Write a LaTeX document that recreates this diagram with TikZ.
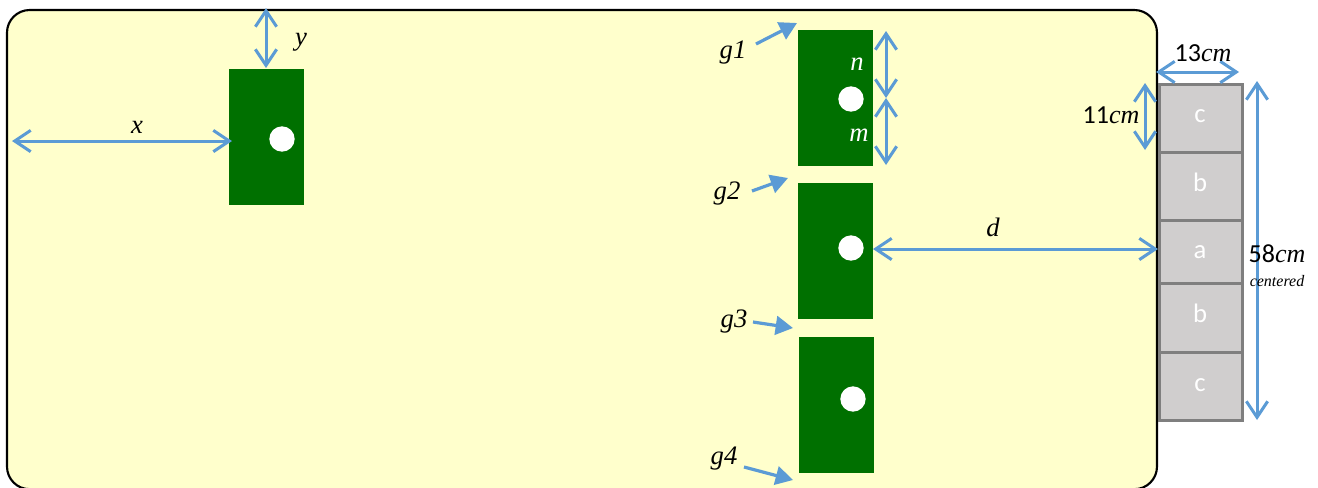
\documentclass[tikz,border=0pt]{standalone}
\usepackage{fontspec}
\setmainfont{Carlito}
\newfontfamily\serifit{Liberation Serif}
\usetikzlibrary{arrows.meta}
\definecolor{dimblue}{HTML}{5B9BD5}
\definecolor{panelfill}{HTML}{FFFFCC}
\definecolor{gategreen}{HTML}{007000}
\definecolor{cellfill}{HTML}{D0CECE}
\definecolor{celledge}{HTML}{7F7F7F}
\newcommand{\ms}[1]{{\serifit\itshape #1}}
\tikzset{
  panel/.style={draw=black,line width=1.6pt,fill=panelfill,rounded corners=17pt},
  gate/.style={fill=gategreen,draw=none},
  hole/.style={circle,fill=white,draw=none,minimum size=19pt,inner sep=0pt},
  cell/.style={draw=celledge,line width=2.25pt,fill=cellfill},
  celltext/.style={text=white,font=\fontsize{20}{22}\selectfont,inner sep=0pt},
  dimline/.style={draw=dimblue,line width=2.25pt,{Straight Barb[length=12pt,width=16pt,line width=2.25pt]}-{Straight Barb[length=12pt,width=16pt,line width=2.25pt]}},
  pointer/.style={draw=dimblue,line width=2.4pt,-{Triangle[length=13pt,width=14pt]}},
  lab/.style={text=black,inner sep=0pt,font=\fontsize{19.5}{22}\selectfont},
  gl/.style={lab,font=\fontsize{20}{22}\selectfont\serifit\itshape},
}
\begin{document}
\begin{tikzpicture}[x=0.75pt,y=-0.75pt]
\useasboundingbox (0,0) rectangle (1318,487);
\begin{scope}
\clip (0,0) rectangle (1318,487);
\path[panel] (7,10) rectangle (1157,489.2);
\end{scope}
% gates
\path[gate] (229,69) rectangle (304,205);
\path[gate] (798,30) rectangle (873,166);
\path[gate] (798,183) rectangle (873,319);
\path[gate] (799,337) rectangle (874,473);
\node[hole] (h0) at (282,139) {};
\node[hole] (h1) at (851,99) {};
\node[hole] (h2) at (851,248) {};
\node[hole] (h3) at (853,399) {};
% cells
\path[cell] (1159,84) rectangle (1242,152);
\path[cell] (1159,152) rectangle (1242,220);
\path[cell] (1159,220) rectangle (1242,283);
\path[cell] (1159,283) rectangle (1242,352);
\path[cell] (1159,352) rectangle (1242,420);
\node[celltext] (c1) at (1200,116) {c};
\node[celltext] (b1) at (1200,182) {b};
\node[celltext] (a1) at (1200,252) {a};
\node[celltext] (b2) at (1200,313) {b};
\node[celltext] (c2) at (1200,385) {c};
% coordinates
\coordinate (xa) at (12,141); \coordinate (xb) at (232,141);
\coordinate (ya) at (266,8); \coordinate (yb) at (266,68);
\coordinate (na) at (886,31); \coordinate (nb) at (886,98); \coordinate (mb) at (886,165);
\coordinate (da) at (873,249); \coordinate (db) at (1158,249);
\coordinate (wa) at (1156,72); \coordinate (wb) at (1239,72);
\coordinate (ha) at (1145,83); \coordinate (hb) at (1145,150);
\coordinate (ta) at (1257,81); \coordinate (tb) at (1257,420);
\draw[dimline] (xa) -- (xb);
\draw[dimline] (ya) -- (yb);
\draw[dimline] (na) -- (nb);
\draw[dimline] (nb) -- (mb);
\draw[dimline] (da) -- (db);
\draw[dimline] (wa) -- (wb);
\draw[dimline] (ha) -- (hb);
\draw[dimline] (ta) -- (tb);
% pointers
\coordinate (p1a) at (756,44); \coordinate (p1b) at (797,23);
\coordinate (p2a) at (752,191); \coordinate (p2b) at (788,178);
\coordinate (p3a) at (753,322); \coordinate (p3b) at (793,328);
\coordinate (p4a) at (744,467); \coordinate (p4b) at (793,480);
\draw[pointer] (p1a) -- (p1b);
\draw[pointer] (p2a) -- (p2b);
\draw[pointer] (p3a) -- (p3b);
\draw[pointer] (p4a) -- (p4b);
% labels
\node[gl] (g1) at (733,53) {g1};
\node[gl] (g2) at (727,194) {g2};
\node[gl] (g3) at (734,322) {g3};
\node[gl] (g4) at (724,459) {g4};
\node[gl] (lx) at (137,127) {x};
\node[gl] (ly) at (301,42) {y};
\node[gl] (ld) at (993,227) {d};
\node[gl,text=white] (ln) at (857,64) {n};
\node[gl,text=white] (lm) at (859,135) {m};
\node[lab] (l13) at (1203,53) {13\ms{cm}};
\node[lab] (l11) at (1111,115) {11\ms{cm}};
\node[lab] (l58) at (1277,254) {58\ms{cm}};
\node[lab,font=\fontsize{12}{13}\selectfont\serifit\itshape] (lc) at (1277,281) {centered};
\end{tikzpicture}
\end{document}
